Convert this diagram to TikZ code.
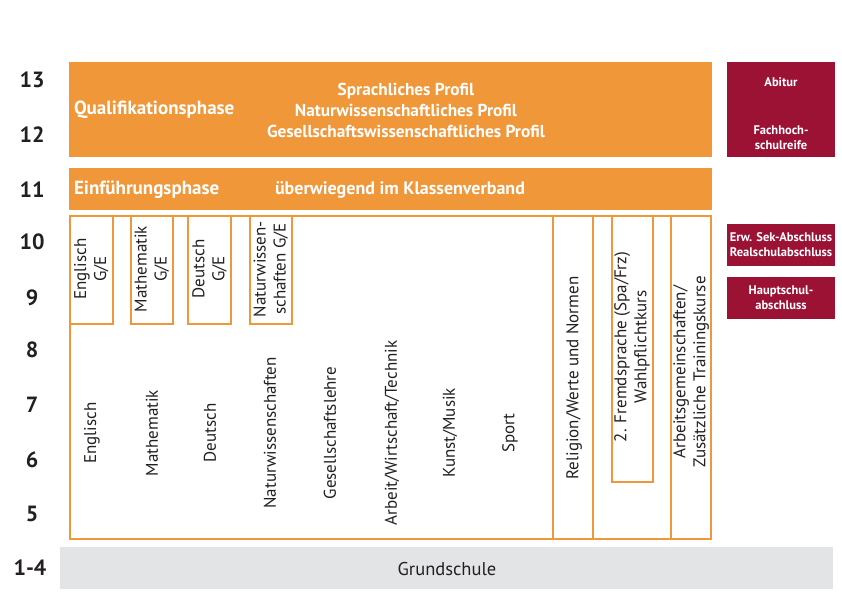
\documentclass[tikz,border=0pt]{standalone}
\usepackage{fontspec}
\setmainfont{PT Sans}
\definecolor{orng}{RGB}{240,151,58}
\definecolor{wine}{RGB}{155,18,53}
\definecolor{base}{RGB}{227,228,230}
\definecolor{ink}{RGB}{35,31,32}

\begin{document}
\begin{tikzpicture}[x=1pt,y=-1pt,
  every node/.style={inner sep=0pt,outer sep=0pt,text=ink},
  yr/.style={font=\bfseries\fontsize{22}{26}\selectfont},
  hd/.style={font=\bfseries\fontsize{19}{21}\selectfont,text=white,anchor=west},
  pf/.style={font=\bfseries\fontsize{17.3}{21}\selectfont,text=white,align=center},
  sb/.style={font=\fontsize{17}{20}\selectfont,rotate=90,align=center},
  ab/.style={font=\bfseries\fontsize{12.5}{15}\selectfont,text=white,align=center},
  frame/.style={draw=orng,line width=2pt}]
\useasboundingbox (0,0) rectangle (842,595);

% ---- grades --------------------------------------------------------------
\foreach \y/\g/\n in {80/13/g13, 135/12/g12, 190/11/g11, 242/10/g10, 298/9/g9,
                      350/8/g8, 405/7/g7, 460/6/g6, 514/5/g5} {
  \node[yr] (\n) at (32,\y) {\g};
}
\node[yr] (g14) at (30,568) {1-4};

% ---- upper stage ---------------------------------------------------------
\fill[orng] (69,62) rectangle (712,157);
\node[hd] (qual) at (74,110) {Qualifikationsphase};
\node[pf] (prof) at (406,110) {Sprachliches Profil\\Naturwissenschaftliches Profil\\Gesellschaftswissenschaftliches Profil};

\fill[orng] (69,168) rectangle (712,210);
\node[hd] (einf) at (74,190) {Einführungsphase};
\node[pf,font=\bfseries\fontsize{18}{21}\selectfont] (klv) at (400,190) {überwiegend im Klassenverband};

% ---- lower stage ---------------------------------------------------------
\draw[frame] (70,216) rectangle (711,539);
\foreach \xa/\xb/\t/\n in {70/112.5/{Englisch\\G/E}/ge,
                           130.5/173/{Mathematik\\G/E}/gm,
                           188/231/{Deutsch\\G/E}/gd,
                           249.5/292/{Naturwissen-\\schaften G/E}/gn} {
  \draw[frame] (\xa,216) rectangle (\xb,324);
  \node[sb] (\n) at ({(\xa+\xb)/2},269) {\t};
}
\foreach \x/\t/\n in {92/Englisch/en, 152/Mathematik/ma, 210/Deutsch/de,
                      270/Naturwissenschaften/nw, 330/Gesellschaftslehre/gl,
                      392/{Arbeit/Wirtschaft/Technik}/awt, 450/{Kunst/Musik}/km,
                      510/Sport/sp} {
  \node[sb] (\n) at (\x,433) {\t};
}
\draw[frame] (553,216) rectangle (593,539);
\node[sb] (rel) at (574,378) {Religion/Werte und Normen};
\draw[frame] (612,216) rectangle (652.5,482);
\node[sb] (fs) at (632,347) {2. Fremdsprache (Spa/Frz)\\Wahlpflichtkurs};
\draw[frame] (671,216) rectangle (711,539);
\node[sb] (ag) at (691,372) {Arbeitsgemeinschaften/\\Zusätzliche Trainingskurse};

% ---- degrees -------------------------------------------------------------
\fill[wine] (727,62) rectangle (835,157);
\node[ab] (abi) at (781,82) {Abitur};
\node[ab] (fhr) at (781,138) {Fachhoch-\\schulreife};
\fill[wine] (727,224) rectangle (835,266);
\node[ab] (rsa) at (781,245) {Erw. Sek-Abschluss\\Realschulabschluss};
\fill[wine] (727,277) rectangle (835,319);
\node[ab] (hsa) at (781,298) {Hauptschul-\\abschluss};

% ---- primary -------------------------------------------------------------
\fill[base] (60,547) rectangle (833,589);
\node[font=\fontsize{18.5}{21}\selectfont] (gs) at (447,569) {Grundschule};
\end{tikzpicture}
\end{document}
